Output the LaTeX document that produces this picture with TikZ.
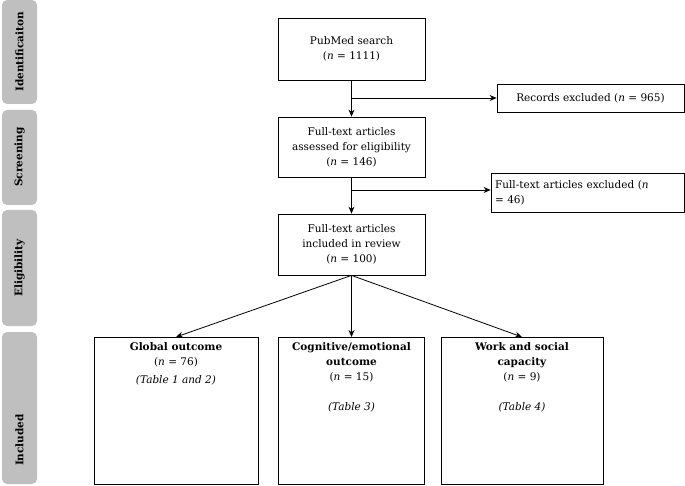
\documentclass[tikz,border=0pt]{standalone}
\usepackage{fontspec}
\setmainfont{DejaVu Serif}
\usetikzlibrary{arrows.meta}
\begin{document}
\begin{tikzpicture}[x=1pt,y=-1pt,
  box/.style={draw,thick,align=center,font=\fontsize{10.5}{15}\selectfont,inner sep=0pt},
  txt/.style={align=center,font=\fontsize{10.5}{15}\selectfont,inner sep=0pt},
  stxt/.style={rotate=90,font=\bfseries\fontsize{10.5}{12}\selectfont},
  arr/.style={thick,-{Stealth[length=7pt,width=6pt]}}]
\useasboundingbox (0,0) rectangle (685,486);
% side bars
\path[fill=black!25,rounded corners=5pt] (2,0) rectangle (37,104);
\path[fill=black!25,rounded corners=5pt] (2,110) rectangle (37,205);
\path[fill=black!25,rounded corners=5pt] (2,210) rectangle (37,326);
\path[fill=black!25,rounded corners=5pt] (2,332) rectangle (37,484);
\node[stxt] (s1) at (19.5,52) {Identificaiton};
\node[stxt] (s2) at (19.5,157) {Screening};
\node[stxt] (s3) at (19.5,268) {Eligibility};
\node[stxt] (s4) at (19.5,440) {Included};
% boxes
\node[box,minimum width=147pt,minimum height=62pt] (a) at (351.5,49) {PubMed search\\(\textit{n} = 1111)};
\node[box,minimum width=187pt,minimum height=28pt] (r) at (590.5,98) {Records excluded (\textit{n} = 965)};
\node[box,minimum width=147pt,minimum height=60pt] (b) at (351.5,147) {Full-text articles\\assessed for eligibility\\(\textit{n} = 146)};
\node[box,minimum width=193pt,minimum height=39pt,align=left,text width=185pt] (e) at (587.5,192.5) {Full-text articles excluded (\textit{n}\\= 46)};
\node[box,minimum width=147pt,minimum height=61pt] (c) at (351.5,244.5) {Full-text articles\\included in review\\(\textit{n} = 100)};
\node[box,minimum width=164pt,minimum height=147pt,anchor=north] (g) at (176,337) {};
\node[box,minimum width=146pt,minimum height=147pt,anchor=north] (h) at (351.5,337) {};
\node[box,minimum width=162pt,minimum height=147pt,anchor=north] (w) at (522,337) {};
\node[txt,anchor=north] (gt) at (176,342) {\textbf{Global outcome}\\(\textit{n} = 76)\\[3pt]\textit{(Table 1 and 2)}};
\node[txt,anchor=north] (ht) at (351.5,342) {\textbf{Cognitive/emotional}\\\textbf{outcome}\\(\textit{n} = 15)\\[15pt]\textit{(Table 3)}};
\node[txt,anchor=north] (wt) at (522,342) {\textbf{Work and social}\\\textbf{capacity}\\(\textit{n} = 9)\\[15pt]\textit{(Table 4)}};
\coordinate (j1) at (351.5,98);
\coordinate (j2) at (351.5,190);
\draw[arr] (a) -- (b);
\draw[arr] (b) -- (c);
\draw[arr] (j1) -- (r.west|-j1);
\draw[arr] (j2) -- (e.west|-j2);
\draw[arr] (c.south) -- (g.north);
\draw[arr] (c.south) -- (h.north);
\draw[arr] (c.south) -- (w.north);
\end{tikzpicture}
\end{document}
